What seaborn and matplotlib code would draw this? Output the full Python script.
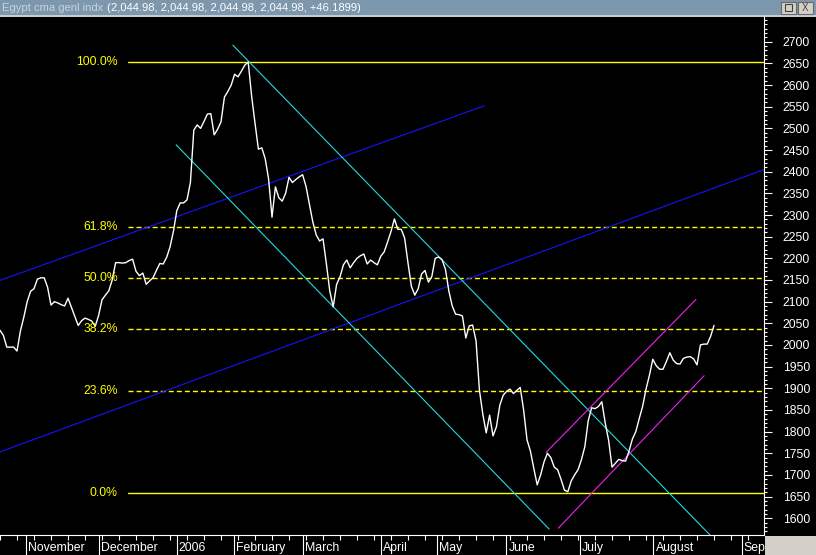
import numpy as np
import pandas as pd
import matplotlib
matplotlib.use("Agg")
import matplotlib.pyplot as plt
import matplotlib.transforms as mtransforms
from matplotlib.patches import Rectangle
from matplotlib.ticker import FixedLocator, MultipleLocator, NullFormatter
import seaborn as sns

# daily closes, one per trading session (late Oct 2005 -> late Aug 2006)
close = [
    2034, 2022, 1995, 1995, 1995, 1986, 2032, 2064, 2100, 2124,
    2130, 2152, 2155, 2155, 2133, 2092, 2100, 2097, 2093, 2090,
    2108, 2087, 2066, 2045, 2056, 2062, 2059, 2055, 2043, 2068,
    2104, 2115, 2125, 2150, 2190, 2190, 2189, 2190, 2195, 2198,
    2170, 2160, 2166, 2140, 2148, 2155, 2172, 2188, 2187, 2202,
    2226, 2262, 2310, 2328, 2328, 2335, 2375, 2496, 2508, 2500,
    2516, 2533, 2534, 2485, 2498, 2515, 2572, 2585, 2600, 2625,
    2619, 2632, 2646, 2653, 2575, 2512, 2452, 2455, 2430, 2383,
    2295, 2365, 2340, 2332, 2350, 2387, 2375, 2382, 2388, 2393,
    2366, 2325, 2284, 2254, 2240, 2245, 2187, 2124, 2088, 2140,
    2157, 2185, 2196, 2178, 2190, 2200, 2206, 2210, 2187, 2196,
    2190, 2185, 2205, 2215, 2238, 2262, 2291, 2267, 2267, 2247,
    2189, 2135, 2115, 2130, 2164, 2172, 2145, 2158, 2200, 2203,
    2197, 2175, 2125, 2090, 2071, 2070, 2067, 2016, 2044, 2046,
    2010, 1896, 1840, 1797, 1838, 1790, 1811, 1861, 1884, 1893,
    1898, 1888, 1895, 1902, 1850, 1781, 1755, 1715, 1677, 1700,
    1730, 1750, 1740, 1718, 1712, 1690, 1665, 1661, 1686, 1700,
    1712, 1735, 1765, 1825, 1855, 1853, 1858, 1869, 1820, 1780,
    1718, 1727, 1736, 1733, 1732, 1755, 1783, 1800, 1830, 1858,
    1898, 1930, 1967, 1952, 1944, 1944, 1962, 1982, 1965, 1957,
    1956, 1969, 1972, 1973, 1968, 1954, 2000, 2002, 2002, 2020,
    2045,
]

month_names = ["November", "December", "2006", "February", "March", "April",
               "May", "June", "July", "August", "Sep"]
month_start = [7.6, 29.1, 52.0, 68.9, 89.1, 112.0, 128.6, 148.9, 170.6, 192.2, 218.1]

# fibonacci retracement between the Feb high and the July low
fib_labels = ["100.0%", "61.8%", "50.0%", "38.2%", "23.6%", "0.0%"]
fib_levels = [2653, 2273, 2155, 2038, 1893, 1658]
fib_solid = [True, False, False, False, False, True]

# trend lines: (bar_start, price_start, bar_end, price_end)
blue_lines = [(0, 2149, 142.4, 2552), (0, 1753, 224.7, 2405)]
cyan_lines = [(68.5, 2692, 209.1, 1559), (51.8, 2462, 161.5, 1575)]
magenta_lines = [(160.6, 1752, 204.7, 2105), (164.2, 1577, 207.1, 1929)]

title_name = "Egypt cma genl indx"
title_vals = "(2,044.98, 2,044.98, 2,044.98, 2,044.98, +46.1899)"

sns.set_style("dark", {"axes.facecolor": "black", "figure.facecolor": "black",
                       "axes.edgecolor": "white", "xtick.bottom": True, "ytick.right": True})
plt.rcParams["font.family"] = ["Liberation Sans", "DejaVu Sans"]

W, H = 816, 555
fig = plt.figure(figsize=(W / 100, H / 100), dpi=100)
ax = fig.add_axes([0, 20 / H, 764 / W, 518 / H])
ax.set_facecolor("black")

df = pd.DataFrame({"bar": np.arange(len(close)), "close": close})
sns.lineplot(data=df, x="bar", y="close", color="white", linewidth=1.0, ax=ax, zorder=4)

yellow = "#ffff00"
for lab, lvl, solid in zip(fib_labels, fib_levels, fib_solid):
    if solid:
        ax.plot([37.6, 224.7], [lvl, lvl], color=yellow, lw=1.0, zorder=2)
    else:
        ax.plot([37.6, 224.7], [lvl, lvl], color=yellow, lw=1.0, dashes=(3.6, 2.2), zorder=2)
    ax.text(34.7, lvl, lab, color=yellow, fontsize=8.8, ha="right", va="center", zorder=5)

for lines, col in [(blue_lines, "#1414ff"), (cyan_lines, "#22dcdc"), (magenta_lines, "#ee22ee")]:
    for x0, y0, x1, y1 in lines:
        ax.plot([x0, x1], [y0, y1], color=col, lw=0.8, zorder=3)

ax.set_xlim(0, 224.7)
ax.set_ylim(1561.3, 2757.1)
ax.set_xlabel("")
ax.set_ylabel("")
ax.grid(False)
for s in ["left", "top"]:
    ax.spines[s].set_visible(False)
for s in ["right", "bottom"]:
    ax.spines[s].set_color("white")
    ax.spines[s].set_linewidth(0.8)

# price scale on the right
ax.yaxis.tick_right()
ax.yaxis.set_major_locator(FixedLocator(range(1600, 2701, 50)))
ax.yaxis.set_minor_locator(MultipleLocator(10))
ax.tick_params(axis="y", which="both", left=False, right=True, labelleft=False, labelright=True)
ax.tick_params(axis="y", which="major", length=5.5, width=0.8, colors="white",
               labelsize=8.8, pad=8, direction="out")
ax.tick_params(axis="y", which="minor", length=2, width=0.8, colors="white", direction="out")

# months along the bottom
ax.xaxis.set_major_locator(FixedLocator(month_start))
ax.xaxis.set_major_formatter(NullFormatter())
ax.xaxis.set_minor_locator(MultipleLocator(5, offset=0.1))
ax.tick_params(axis="x", which="both", bottom=True)
ax.tick_params(axis="x", which="major", length=15, width=0.8, colors="white", direction="out")
ax.tick_params(axis="x", which="minor", length=3.5, width=0.8, colors="white", direction="out")
trans = mtransforms.blended_transform_factory(ax.transData, ax.transAxes)
for pos, name in zip(month_start, month_names):
    ax.text(pos + 0.6, -0.025, name, transform=trans, color="white", fontsize=8.8,
            ha="left", va="center", clip_on=False)

# window title bar
fig.patches.append(Rectangle((0, 1 - 15 / H), 1, 15 / H, transform=fig.transFigure,
                             facecolor="#7d97ad", edgecolor="none", zorder=0))
fig.patches.append(Rectangle((0, 1 - 17 / H), 1, 2 / H, transform=fig.transFigure,
                             facecolor="#c4ccd4", edgecolor="none", zorder=0))
for bx in [781, 798]:
    fig.patches.append(Rectangle((bx / W, 1 - 14 / H), 15 / W, 12 / H, transform=fig.transFigure,
                                 facecolor="#d4d0c8", edgecolor="#6a6a6a", lw=0.8, zorder=1))
fig.patches.append(Rectangle((785 / W, 1 - 11 / H), 7 / W, 7 / H, transform=fig.transFigure,
                             facecolor="none", edgecolor="#404040", lw=0.8, zorder=2))
fig.text(805.5 / W, 1 - 8 / H, "X", color="#404040", fontsize=7, ha="center", va="center")
# grey corner under the price scale
fig.patches.append(Rectangle((765 / W, 0), 51 / W, 19 / H, transform=fig.transFigure,
                             facecolor="#d4d0c8", edgecolor="none", zorder=1))

t1 = fig.text(2 / W, 1 - 8 / H, title_name, color="#c9d3dd", fontsize=8.1, ha="left", va="center")
r = fig.canvas.get_renderer()
bb = t1.get_window_extent(renderer=r)
fig.text((bb.x1 + 4) / W, 1 - 8 / H, title_vals, color="white", fontsize=8.1, ha="left", va="center")

fig.savefig("out.png", dpi=100, facecolor="black")
